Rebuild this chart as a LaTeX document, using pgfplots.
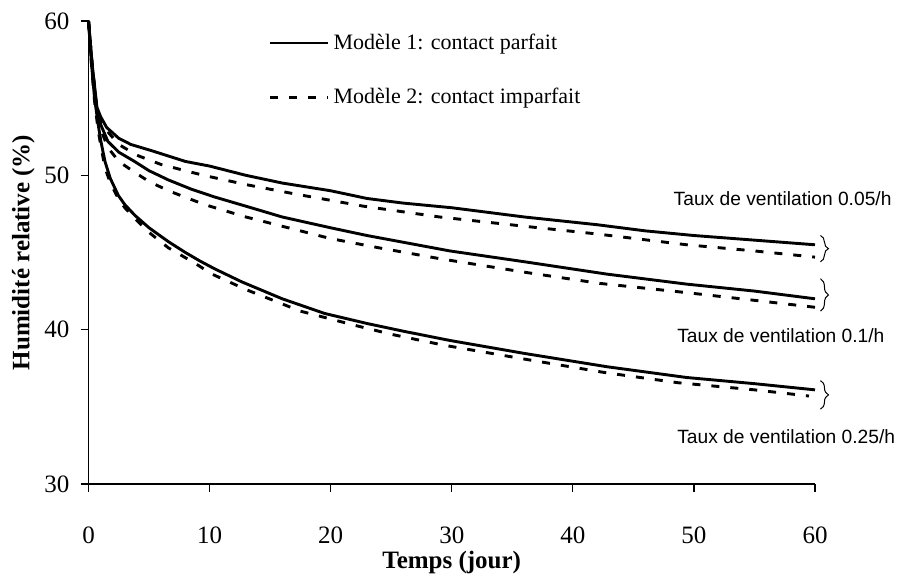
\documentclass[border=0pt]{standalone}
\usepackage{pgfplots}
\pgfplotsset{compat=1.18}
\usepackage{fontspec}
\setmainfont{Liberation Serif}
\newfontfamily\arial{Liberation Sans}
\usetikzlibrary{decorations.pathreplacing}
\begin{document}
\begin{tikzpicture}
\begin{axis}[
  scale only axis,
  width=363.25pt, height=231.5pt,
  xmin=0, xmax=60, ymin=30, ymax=60,
  xtick={0,10,...,60}, ytick={30,40,50,60},
  axis x line*=bottom, axis y line*=left,
  axis line style={line width=0.6pt},
  tick align=outside, major tick length=4pt,
  tick style={line width=0.6pt, black},
  /pgf/number format/assume math mode=true,
  tick label style={font=\fontsize{12.5}{14}\selectfont},
  xticklabel style={yshift=-14pt},
  yticklabel style={xshift=-2pt},
  xlabel={\textbf{Temps (jour)}},
  ylabel={\textbf{Humidité relative (\%)}},
  label style={font=\fontsize{12.5}{14}\selectfont},
  xlabel style={yshift=3.5pt},
  ylabel style={yshift=-2pt},
  clip=false,
  legend style={draw=none, fill=none, at={(rel axis cs:0.2475,0.982)}, anchor=north west,
    font=\fontsize{11}{13}\selectfont, row sep=14pt, inner sep=0pt},
  legend cell align=left,
  legend image code/.code={\draw[#1, line width=1.45pt] (0pt,0pt) -- (29pt,0pt);},
  every axis plot/.append style={line width=1.45pt, black},
]
\addplot[solid] coordinates {
(0,60) (0.3,57.2) (0.7,54.4) (1,53.8) (1.5,53.1) (2.5,52.4) (3.5,52.0) (5.2,51.6) (8,50.9) (10,50.6) (13,50.0) (16,49.5) (20,49.0) (23,48.5) (26,48.2) (30,47.9) (36,47.3) (42,46.8) (46,46.4) (50,46.1) (55,45.8) (60,45.5)
};
\addlegendentry{Modèle 1: contact parfait}
\addplot[dash pattern=on 4pt off 5.5pt] coordinates {
(0,60) (0.3,57.2) (0.7,54.2) (1,53.6) (1.5,52.9) (2.5,52.0) (4,51.3) (6,50.7) (9.5,50.0) (13,49.4) (17,48.8) (22.7,48.0) (29,47.3) (36,46.7) (42,46.2) (49.4,45.5) (55,45.1) (60,44.7)
};
\addlegendentry{Modèle 2: contact imparfait}
\addplot[solid] coordinates {
(0,60) (0.3,57.1) (0.7,54.1) (1,53.3) (1.6,52.2) (2.5,51.5) (3.8,50.9) (5,50.3) (6.6,49.7) (8.5,49.1) (10.4,48.6) (13,48.0) (16,47.3) (20,46.6) (23,46.1) (29.85,45.1) (36,44.4) (42.8,43.6) (49.4,42.95) (55,42.5) (60,42.0)
};
\addplot[dash pattern=on 4pt off 5.5pt] coordinates {
(0,60) (0.3,57.1) (0.7,53.9) (1,53.0) (1.6,51.8) (2.5,50.9) (3.8,50.2) (5,49.6) (6.6,49.0) (9.6,48.1) (13,47.3) (17,46.5) (20,45.9) (24,45.3) (29,44.6) (36.2,43.7) (42.2,43.0) (49.4,42.4) (55,41.9) (60,41.45)
};
\addplot[solid] coordinates {
(0,60) (0.26,57.1) (0.5,55.0) (0.8,53.3) (1.0,52.3) (1.36,50.9) (1.8,49.8) (2.46,48.7) (3.0,48.1) (3.84,47.4) (5,46.6) (6.6,45.7) (8,45.0) (9.2,44.45) (10.4,43.95) (12.65,43.1) (16,42.0) (19.5,41.05) (23,40.4) (26,39.9) (29.85,39.3) (36,38.46) (42.8,37.6) (49.4,36.9) (55,36.5) (60,36.1)
};
\addplot[dash pattern=on 4pt off 5.5pt] coordinates {
(0,60) (0.26,57.0) (0.5,54.8) (0.8,52.9) (1.0,52.0) (1.36,50.5) (1.8,49.5) (2.46,48.5) (3.0,47.9) (3.84,47.2) (5,46.3) (6.6,45.3) (8.8,44.3) (10.2,43.6) (13,42.6) (17.5,41.2) (21.9,40.3) (25,39.7) (29.3,39.0) (36.7,38.0) (42.8,37.2) (48.7,36.56) (55,36.1) (59.5,35.7)
};
% annotations
\draw[line width=0.5pt, decorate, decoration={brace, amplitude=4pt}] (axis cs:60.45,46.1) -- (axis cs:60.45,44.4);
\draw[line width=0.5pt, decorate, decoration={brace, amplitude=4pt}] (axis cs:60.45,43.3) -- (axis cs:60.45,41.2);
\draw[line width=0.5pt, decorate, decoration={brace, amplitude=4pt}] (axis cs:60.45,36.7) -- (axis cs:60.45,34.85);
\node[anchor=west, inner sep=0pt, font=\arial\fontsize{9.6}{11}\selectfont] at (axis cs:48.3,48.5) {Taux de ventilation 0.05/h};
\node[anchor=west, inner sep=0pt, font=\arial\fontsize{9.6}{11}\selectfont] at (axis cs:48.6,39.6) {Taux de ventilation 0.1/h};
\node[anchor=west, inner sep=0pt, font=\arial\fontsize{9.6}{11}\selectfont] at (axis cs:48.6,33.04) {Taux de ventilation 0.25/h};
\coordinate (sw) at (rel axis cs:0,0);
\coordinate (ne) at (rel axis cs:1,1);
\end{axis}
\pgfresetboundingbox
\path ([shift={(-44.25pt,-45.5pt)}]sw) rectangle ([shift={(41pt,10.5pt)}]ne);
\end{tikzpicture}
\end{document}
